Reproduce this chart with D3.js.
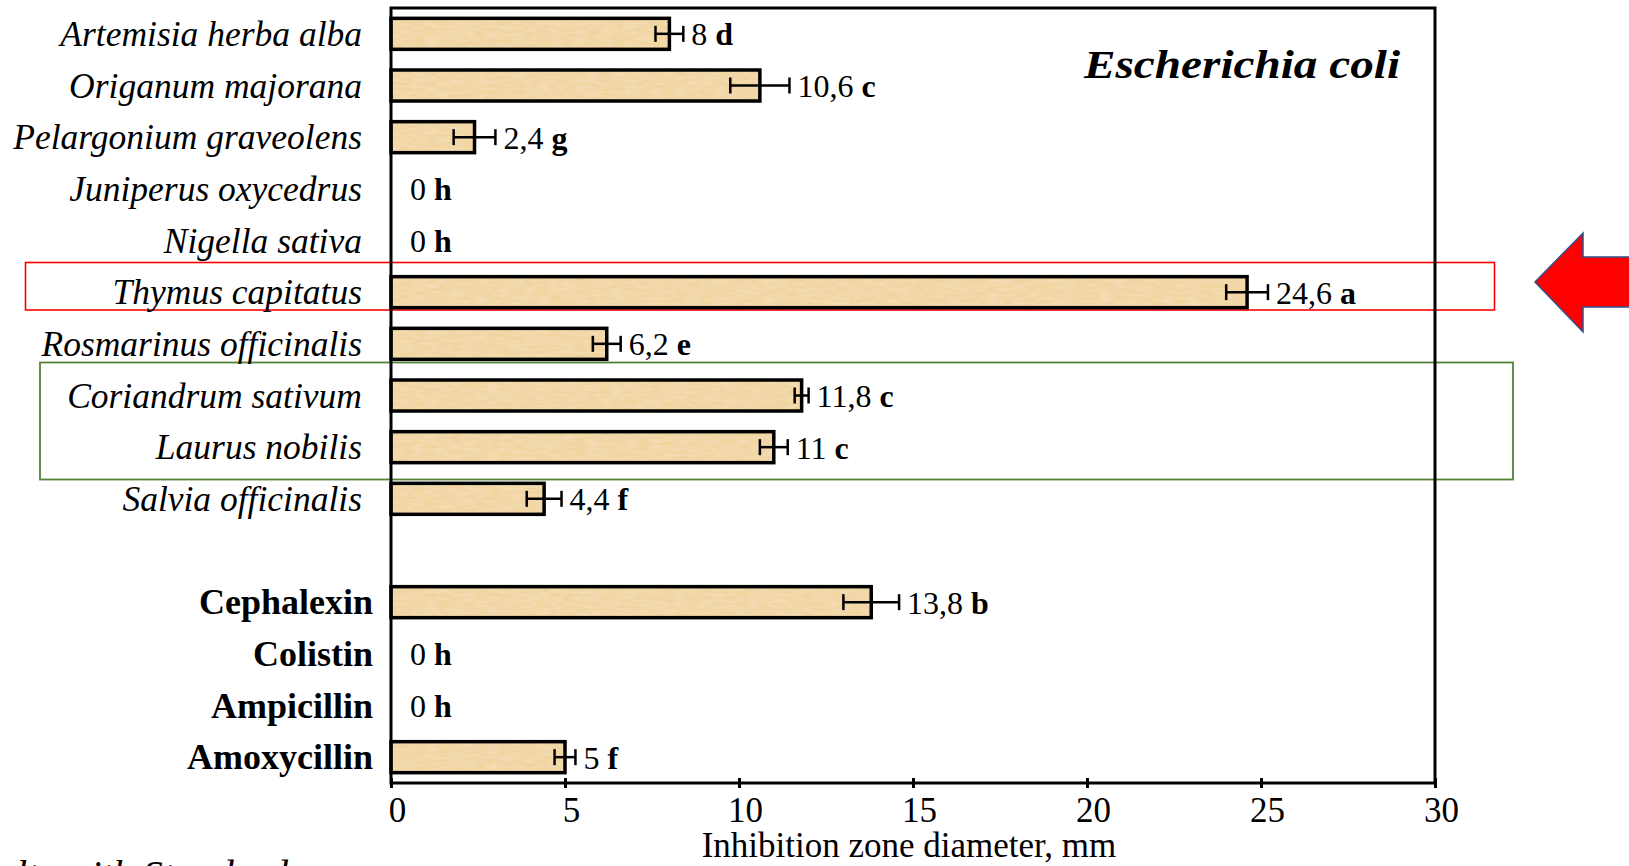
<!DOCTYPE html>
<html>
<head>
<meta charset="utf-8">
<script src="https://cdn.jsdelivr.net/npm/d3@7"></script>
<style>
  html, body { margin: 0; padding: 0; background: #fff; overflow: hidden; }
  svg { display: block; font-family: "Liberation Serif", "Times New Roman", serif; }
</style>
</head>
<body>
<div class="container"></div>
<script>
'use strict';

// Essential oils (italic labels) and the reference antibiotics (bold labels)
const oils = ["Artemisia herba alba", "Origanum majorana", "Pelargonium graveolens",
  "Juniperus oxycedrus", "Nigella sativa", "Thymus capitatus", "Rosmarinus officinalis",
  "Coriandrum sativum", "Laurus nobilis", "Salvia officinalis"];
const oilValues = [8, 10.6, 2.4, 0, 0, 24.6, 6.2, 11.8, 11, 4.4];
const oilErrors = [0.4, 0.85, 0.6, 0, 0, 0.6, 0.4, 0.2, 0.4, 0.5];
const oilLetters = ["d", "c", "g", "h", "h", "a", "e", "c", "c", "f"];

const antibiotics = ["Cephalexin", "Colistin", "Ampicillin", "Amoxycillin"];
const antibioticValues = [13.8, 0, 0, 5];
const antibioticErrors = [0.8, 0, 0, 0.3];
const antibioticLetters = ["b", "h", "h", "f"];

const xTicks = [0, 5, 10, 15, 20, 25, 30];
const xTitle = "Inhibition zone diameter, mm";
const chartTitle = "Escherichia coli";

// build rows (one empty row between the two groups)
let rows = [];
oils.forEach((n, i) => rows.push({id: n, name: n, value: oilValues[i], err: oilErrors[i], letter: oilLetters[i], oil: true}));
rows.push({id: "_gap", name: "", value: null});
antibiotics.forEach((n, i) => rows.push({id: n, name: n, value: antibioticValues[i], err: antibioticErrors[i], letter: antibioticLetters[i], oil: false}));

const width = 1629;
const height = 866;

const svg = d3.select("div.container").append("svg")
    .attr("width", width)
    .attr("height", height)
    .attr("viewBox", "0 0 " + width + " " + height);

// plot frame
const plotLeft = 391, plotRight = 1435, plotTop = 8, plotBottom = 783;

const x = d3.scaleLinear().domain([0, 30]).range([plotLeft, plotRight]);
const y = d3.scaleBand()
    .domain(rows.map(d => d.id))
    .range([plotTop, plotBottom])
    .paddingInner(0.4)
    .paddingOuter(0.2);

// slightly mottled tan fill like the scanned bars
const defs = svg.append("defs");
const filt = defs.append("filter").attr("id", "grain").attr("x", 0).attr("y", 0).attr("width", 1).attr("height", 1);
filt.append("feTurbulence").attr("type", "fractalNoise").attr("baseFrequency", "0.08 0.35").attr("numOctaves", 2).attr("seed", 4).attr("result", "noise");
filt.append("feColorMatrix").attr("in", "noise").attr("type", "matrix")
    .attr("values", "0 0 0 0 1  0 0 0 0 1  0 0 0 0 1  0 0 0 0.35 -0.08").attr("result", "spots");
filt.append("feComposite").attr("in", "spots").attr("in2", "SourceGraphic").attr("operator", "in").attr("result", "spotsIn");
const merge = filt.append("feMerge");
merge.append("feMergeNode").attr("in", "SourceGraphic");
merge.append("feMergeNode").attr("in", "spotsIn");

// highlight boxes behind everything
svg.append("rect")
    .attr("x", 25.5).attr("y", 262.5)
    .attr("width", 1469).attr("height", 47.5)
    .attr("fill", "none").attr("stroke", "#ff0000").attr("stroke-width", 1.6);

svg.append("rect")
    .attr("x", 40).attr("y", 362.5)
    .attr("width", 1473).attr("height", 117)
    .attr("fill", "none").attr("stroke", "#548235").attr("stroke-width", 1.8);

// x axis
const xAxis = svg.append("g")
    .attr("transform", "translate(0," + plotBottom + ")")
    .call(d3.axisBottom(x).tickValues(xTicks).tickSize(5).tickSizeOuter(0).tickFormat(d3.format("d")));
xAxis.select(".domain").remove();
xAxis.selectAll(".tick line").attr("stroke", "#000").attr("stroke-width", 3).attr("y1", -5);
xAxis.selectAll(".tick text")
    .attr("x", 6).attr("y", 39).attr("dy", 0)
    .attr("fill", "#000")
    .style("font-family", "Liberation Serif")
    .style("font-size", "35px");

svg.append("text")
    .attr("x", 909).attr("y", 857)
    .attr("text-anchor", "middle")
    .style("font-size", "35px")
    .text(xTitle);

// bars
const barRows = rows.filter(d => d.value !== null);

svg.append("g").selectAll("rect")
    .data(barRows.filter(d => d.value > 0))
    .enter()
    .append("rect")
    .attr("x", x(0))
    .attr("y", d => y(d.id))
    .attr("width", d => x(d.value) - x(0))
    .attr("height", y.bandwidth())
    .attr("fill", "#f1d39b")
    .attr("filter", "url(#grain)");

svg.append("g").selectAll("rect")
    .data(barRows.filter(d => d.value > 0))
    .enter()
    .append("rect")
    .attr("x", x(0))
    .attr("y", d => y(d.id))
    .attr("width", d => x(d.value) - x(0))
    .attr("height", y.bandwidth())
    .attr("fill", "none")
    .attr("stroke", "#000")
    .attr("stroke-width", 3.5);

// error bars
const eb = svg.append("g").selectAll("g")
    .data(barRows.filter(d => d.err > 0))
    .enter()
    .append("g")
    .attr("stroke", "#000")
    .attr("stroke-width", 2.5);
eb.append("line")
    .attr("x1", d => x(d.value - d.err)).attr("x2", d => x(d.value + d.err))
    .attr("y1", d => y(d.id) + y.bandwidth() / 2).attr("y2", d => y(d.id) + y.bandwidth() / 2);
eb.append("line")
    .attr("x1", d => x(d.value - d.err)).attr("x2", d => x(d.value - d.err))
    .attr("y1", d => y(d.id) + y.bandwidth() / 2 - 8).attr("y2", d => y(d.id) + y.bandwidth() / 2 + 8);
eb.append("line")
    .attr("x1", d => x(d.value + d.err)).attr("x2", d => x(d.value + d.err))
    .attr("y1", d => y(d.id) + y.bandwidth() / 2 - 8).attr("y2", d => y(d.id) + y.bandwidth() / 2 + 8);

// value labels: number + bold letter
const vl = svg.append("g").selectAll("text")
    .data(barRows)
    .enter()
    .append("text")
    .attr("x", d => d.value > 0 ? x(d.value + d.err) + 8 : x(0) + 19)
    .attr("y", d => y(d.id) + y.bandwidth() / 2 + 11.5)
    .style("font-size", "32px");
vl.append("tspan").text(d => String(d.value).replace(".", ",") + " ");
vl.append("tspan").style("font-weight", "bold").text(d => d.letter);

// category labels
svg.append("g").selectAll("text")
    .data(barRows)
    .enter()
    .append("text")
    .attr("x", d => d.oil ? 362 : 373)
    .attr("y", d => y(d.id) + y.bandwidth() / 2 + 12)
    .attr("text-anchor", "end")
    .style("font-size", d => d.oil ? "35.5px" : "36px")
    .style("font-style", d => d.oil ? "italic" : "normal")
    .style("font-weight", d => d.oil ? "normal" : "bold")
    .text(d => d.name);

// frame on top
svg.append("rect")
    .attr("x", plotLeft).attr("y", plotTop)
    .attr("width", plotRight - plotLeft).attr("height", plotBottom - plotTop)
    .attr("fill", "none").attr("stroke", "#000").attr("stroke-width", 3);

// organism title
svg.append("text")
    .attr("x", 1084).attr("y", 78)
    .attr("textLength", 316)
    .attr("lengthAdjust", "spacingAndGlyphs")
    .style("font-size", "41px")
    .style("font-style", "italic")
    .style("font-weight", "bold")
    .text(chartTitle);

// red arrow pointing at the best oil
const arrow = d3.path();
arrow.moveTo(1535, 282);
arrow.lineTo(1583, 233);
arrow.lineTo(1583, 257);
arrow.lineTo(1640, 257);
arrow.lineTo(1640, 307);
arrow.lineTo(1583, 307);
arrow.lineTo(1583, 332);
arrow.closePath();
svg.append("path")
    .attr("d", arrow.toString())
    .attr("fill", "#ff0000")
    .attr("stroke", "#2f528f")
    .attr("stroke-width", 1.5);

// caption from the slide, cut off at the bottom edge like the source
svg.append("text")
    .attr("x", -4).attr("y", 888)
    .style("font-size", "40px")
    .style("font-style", "italic")
    .text("ults with Standards");
</script>
</body>
</html>
